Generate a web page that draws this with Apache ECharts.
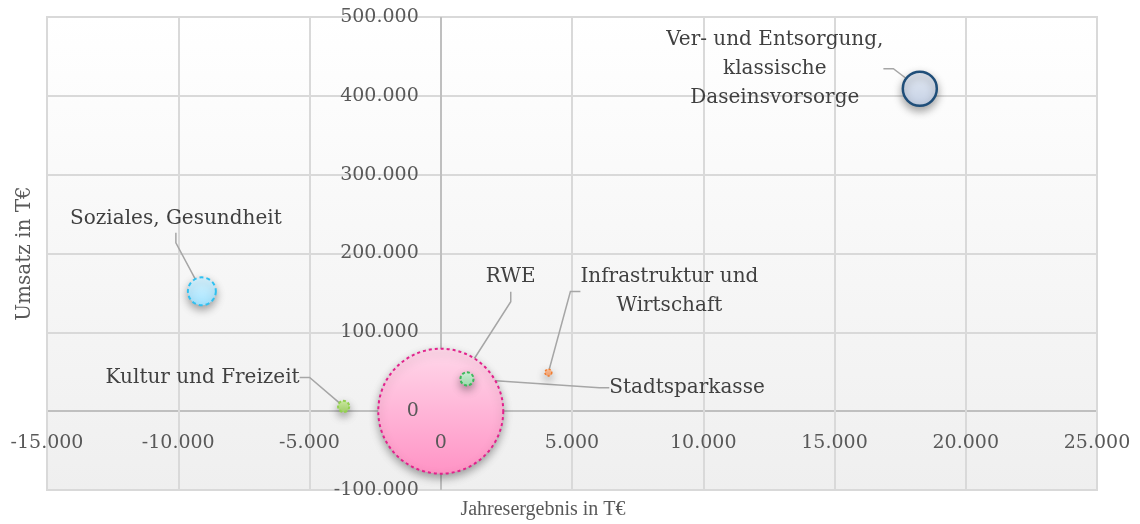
<!DOCTYPE html>
<html>
<head>
<meta charset="utf-8">
<script src="https://cdn.jsdelivr.net/npm/echarts@6/dist/echarts.min.js"></script>
<style>
html,body{margin:0;padding:0;background:#fff;}
#chart{width:1140px;height:524px;}
</style>
</head>
<body>
<div id="chart"></div>
<script>
// ---- data ----
const names = ["Soziales, Gesundheit", "Kultur und Freizeit", "RWE", "Stadtsparkasse", "Infrastruktur und\nWirtschaft", "Ver- und Entsorgung,\nklassische\nDaseinsvorsorge"];
const jahresergebnis = [-9100, -3700, 0, 1000, 4100, 18250];
const umsatz = [152000, 6000, 0, 41000, 49000, 409000];
const bubbleSize = [50, 8, 1000, 11, 3, 74];
const xTitle = "Jahresergebnis in T€";
const yTitle = "Umsatz in T€";
const xRange = {min: -15000, max: 25000, interval: 5000};
const yRange = {min: -100000, max: 500000, interval: 100000};

// ---- styles ----
const TEXT = '#595959';
const FONT = 'DejaVu Serif';
const GRIDC = '#d9d9d9';
const ZEROC = '#bfbfbf';
function vgrad(a, b) {
  return new echarts.graphic.LinearGradient(0, 0, 0, 1, [{offset: 0, color: a}, {offset: 1, color: b}]);
}
const styles = [
  {color: vgrad('#d9f4ff', '#a3e3ff'), borderColor: '#2fc0f0', borderType: [4, 3], borderWidth: 2},
  {color: vgrad('#d2efa8', '#a9da6c'), borderColor: '#92d050', borderType: [3, 2], borderWidth: 2},
  {color: vgrad('#ffd8ea', '#ff93c5'), borderColor: '#e2228c', borderType: [3, 3], borderWidth: 2},
  {color: vgrad('#d3f5dc', '#a6e6b6'), borderColor: '#3db75c', borderType: [3, 2], borderWidth: 2},
  {color: vgrad('#fcc39f', '#f8a06a'), borderColor: '#f07b2e', borderType: [2, 2], borderWidth: 1.5},
  {color: vgrad('#e6ecf5', '#c3cfe3'), borderColor: '#1f4e79', borderType: 'solid', borderWidth: 2.5}
];
const labelOffsets = [[-26, -73], [-141, -29], [70, -134], [220, 9], [121, -81], [-145, -20]];

function deFormat(v) {
  const s = String(Math.abs(v)).replace(/\B(?=(\d{3})+(?!\d))/g, '.');
  return (v < 0 ? '-' : '') + s;
}
function lineColors(r) {
  const c = [];
  for (let v = r.min; v <= r.max; v += r.interval) c.push(v === 0 ? ZEROC : GRIDC);
  return c;
}

const data = names.map((n, i) => ({
  name: n,
  value: [jahresergebnis[i], umsatz[i], bubbleSize[i]],
  itemStyle: Object.assign({opacity: 1, shadowBlur: 8, shadowOffsetY: 4, shadowColor: 'rgba(0,0,0,0.35)'}, styles[i])
}));

const K = 125 / Math.sqrt(1000);

const chart = echarts.init(document.getElementById('chart'), null, {renderer: 'canvas'});
const xBase = Object.assign({type: 'value', gridIndex: 0, position: 'bottom'}, xRange);
const yBase = Object.assign({type: 'value', gridIndex: 0, position: 'left'}, yRange);
chart.setOption({
  animation: false,
  backgroundColor: '#ffffff',
  textStyle: {fontFamily: FONT},
  grid: {
    left: 47, right: 43, top: 17, bottom: 34,
    outerBoundsMode: 'none',
    containLabel: false,
    show: true,
    backgroundColor: vgrad('#ffffff', '#efefef'),
    borderColor: GRIDC, borderWidth: 2
  },
  xAxis: [
    Object.assign({}, xBase, {
      z: 10,
      name: xTitle, nameLocation: 'middle', nameGap: 89,
      nameTextStyle: {color: TEXT, fontSize: 20, fontFamily: 'Liberation Serif', padding: [0, 58, 0, 0]},
      axisLine: {show: false, onZero: false},
      axisTick: {show: false},
      splitLine: {show: false},
      axisLabel: {show: true, color: TEXT, fontSize: 19, fontFamily: FONT, margin: 22, formatter: deFormat}
    }),
    Object.assign({}, xBase, {
      z: 0,
      axisLine: {show: false, onZero: false},
      axisTick: {show: false},
      axisLabel: {show: false},
      splitLine: {show: true, lineStyle: {color: lineColors(xRange), width: 2}}
    })
  ],
  yAxis: [
    Object.assign({}, yBase, {
      z: 10,
      name: yTitle, nameLocation: 'middle', nameGap: 406,
      nameTextStyle: {color: TEXT, fontSize: 20, fontFamily: FONT},
      axisLine: {show: false, onZero: false},
      axisTick: {show: false},
      splitLine: {show: false},
      axisLabel: {show: true, color: TEXT, fontSize: 19, fontFamily: FONT, margin: 22, formatter: deFormat}
    }),
    Object.assign({}, yBase, {
      z: 0,
      axisLine: {show: false, onZero: false},
      axisTick: {show: false},
      axisLabel: {show: false},
      splitLine: {show: true, lineStyle: {color: lineColors(yRange), width: 2}}
    })
  ],
  series: [{
    type: 'scatter',
    xAxisIndex: 0,
    yAxisIndex: 0,
    z: 3,
    data: data,
    symbolSize: v => K * Math.sqrt(v[2]),
    label: {
      show: true,
      position: 'inside',
      formatter: p => p.name,
      color: '#404040',
      textBorderWidth: 0,
      fontSize: 20,
      fontFamily: FONT,
      lineHeight: 29,
      align: 'center'
    },
    labelLine: {show: true, length2: 10, lineStyle: {color: '#a6a6a6', width: 1.5}},
    labelLayout: p => ({dx: labelOffsets[p.dataIndex][0], dy: labelOffsets[p.dataIndex][1], hideOverlap: false})
  }]
});

// move the label axes onto the zero crossing, using the library's own scales
const x0 = chart.convertToPixel({xAxisIndex: 0}, 0);
const y0 = chart.convertToPixel({yAxisIndex: 0}, 0);
const xMinPx = chart.convertToPixel({xAxisIndex: 0}, xRange.min);
const yMinPx = chart.convertToPixel({yAxisIndex: 0}, yRange.min);
chart.setOption({
  xAxis: [{offset: -(yMinPx - y0)}, {}],
  yAxis: [{offset: -(x0 - xMinPx)}, {}]
});
</script>
</body>
</html>
